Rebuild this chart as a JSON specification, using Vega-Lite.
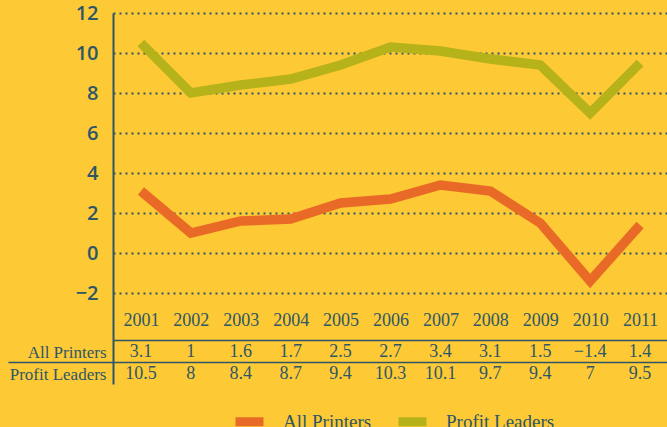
{
  "$schema": "https://vega.github.io/schema/vega-lite/v6.json",
  "background": "#FDC934",
  "padding": {"left": 7, "top": 3, "right": 0, "bottom": 0},
  "config": {"view": {"stroke": null}, "font": "Liberation Serif"},
  "spacing": 0,
  "bounds": "flush",
  "data": {"values": [
    {"year": "2001", "series": "All Printers", "value": 3.1},
    {"year": "2002", "series": "All Printers", "value": 1},
    {"year": "2003", "series": "All Printers", "value": 1.6},
    {"year": "2004", "series": "All Printers", "value": 1.7},
    {"year": "2005", "series": "All Printers", "value": 2.5},
    {"year": "2006", "series": "All Printers", "value": 2.7},
    {"year": "2007", "series": "All Printers", "value": 3.4},
    {"year": "2008", "series": "All Printers", "value": 3.1},
    {"year": "2009", "series": "All Printers", "value": 1.5},
    {"year": "2010", "series": "All Printers", "value": -1.4},
    {"year": "2011", "series": "All Printers", "value": 1.4},
    {"year": "2001", "series": "Profit Leaders", "value": 10.5},
    {"year": "2002", "series": "Profit Leaders", "value": 8},
    {"year": "2003", "series": "Profit Leaders", "value": 8.4},
    {"year": "2004", "series": "Profit Leaders", "value": 8.7},
    {"year": "2005", "series": "Profit Leaders", "value": 9.4},
    {"year": "2006", "series": "Profit Leaders", "value": 10.3},
    {"year": "2007", "series": "Profit Leaders", "value": 10.1},
    {"year": "2008", "series": "Profit Leaders", "value": 9.7},
    {"year": "2009", "series": "Profit Leaders", "value": 9.4},
    {"year": "2010", "series": "Profit Leaders", "value": 7},
    {"year": "2011", "series": "Profit Leaders", "value": 9.5}
  ]},
  "vconcat": [
    {
      "width": 555,
      "height": 327,
      "mark": {"type": "line", "strokeWidth": 9.5, "strokeJoin": "miter", "strokeCap": "butt"},
      "encoding": {
        "x": {
          "field": "year", "type": "ordinal",
          "scale": {"type": "point", "padding": 0.56},
          "axis": {"title": null, "labelAngle": 0, "ticks": false, "domain": true, "domainColor": "#2D5768", "domainWidth": 1.5, "grid": false, "labelPadding": -20, "labelBaseline": "middle", "labelFont": "Liberation Serif", "labelFontSize": 18, "labelColor": "#2D5768", "minExtent": 0, "maxExtent": 0}
        },
        "y": {
          "field": "value", "type": "quantitative",
          "scale": {"domain": [-4.35, 12], "nice": false, "zero": false},
          "axis": {"title": null, "values": [-2, 0, 2, 4, 6, 8, 10, 12], "ticks": false, "domain": true, "domainColor": "#2D5768", "domainWidth": 2, "grid": true, "gridColor": "#2D5768", "gridDash": [2, 4], "gridWidth": 2, "labelPadding": 15, "labelFont": "Open Sans", "labelFontSize": 20, "labelFontWeight": 600, "labelColor": "#2D5768"}
        },
        "color": {
          "field": "series", "type": "nominal",
          "scale": {"domain": ["All Printers", "Profit Leaders"], "range": ["#E96A27", "#B5B21A"]},
          "legend": {"orient": "none", "legendX": 118, "legendY": 390, "direction": "horizontal", "title": null, "symbolType": "stroke", "symbolSize": 784, "symbolStrokeWidth": 9, "labelFont": "Liberation Serif", "labelFontSize": 19, "labelColor": "#2D5768", "labelOffset": 15, "columnPadding": 8}
        }
      }
    },
    {
      "width": 555,
      "height": 44,
      "mark": {"type": "text", "font": "Liberation Serif", "fontSize": 18, "color": "#2D5768", "dy": 1},
      "encoding": {
        "x": {"field": "year", "type": "ordinal", "scale": {"type": "point", "padding": 0.56}, "axis": null},
        "y": {
          "field": "series", "type": "nominal",
          "scale": {"type": "band", "domain": ["All Printers", "Profit Leaders"], "paddingInner": 0, "paddingOuter": 0},
          "axis": {"title": null, "orient": "left", "domain": true, "domainColor": "#2D5768", "domainWidth": 2, "ticks": true, "tickBand": "extent", "tickSize": 105, "tickWidth": 1.5, "tickColor": "#2D5768", "tickOpacity": {"condition": {"test": "datum.value === 'All Printers'", "value": 1}, "value": 0}, "grid": true, "gridColor": "#2D5768", "gridWidth": 1.5, "gridOpacity": {"condition": {"test": "datum.value === 'All Printers'", "value": 1}, "value": 0}, "labelPadding": -98, "labelFont": "Liberation Serif", "labelFontSize": 17, "labelColor": "#2D5768", "labelOffset": 1}
        },
        "text": {"field": "value", "type": "quantitative", "format": "~g"}
      }
    }
  ]
}
